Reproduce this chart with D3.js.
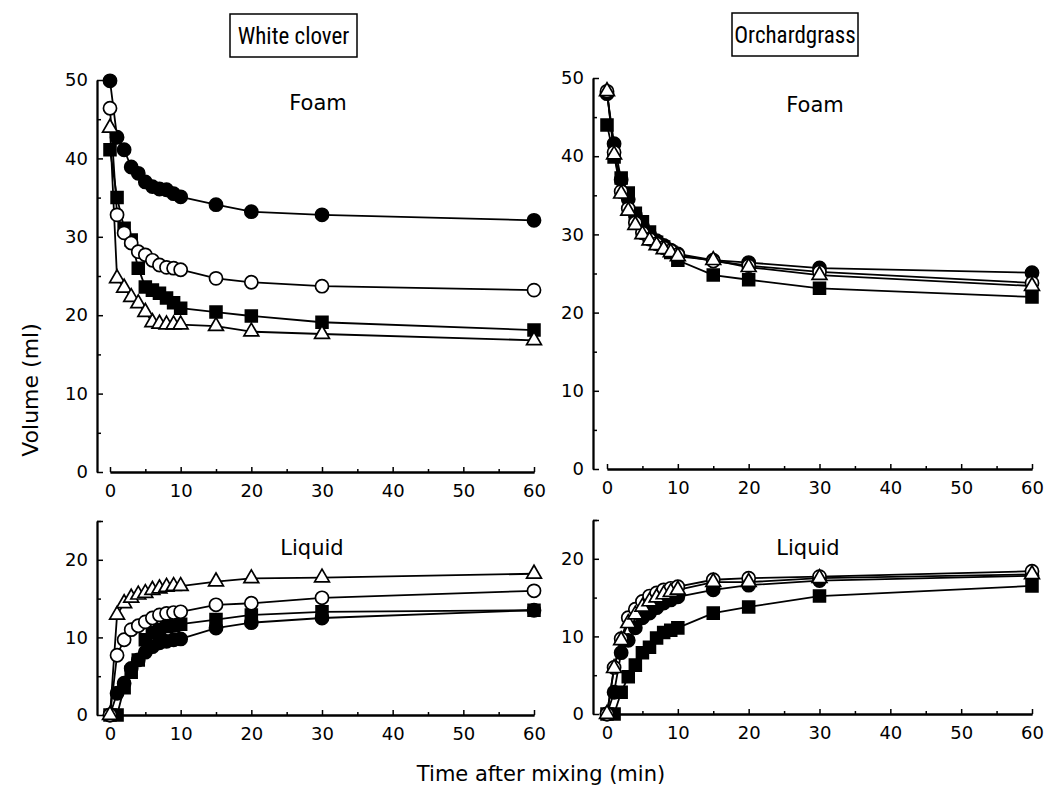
<!DOCTYPE html>
<html>
<head>
<meta charset="utf-8">
<script src="https://cdn.jsdelivr.net/npm/d3@7"></script>
<style>
  body { margin: 0; background: #fff; }
  svg { display: block; }
  .tick text { font-family: "DejaVu Sans", sans-serif; font-size: 18px; fill: #000; }
  .lab { font-family: "DejaVu Sans", sans-serif; fill: #000; }
</style>
</head>
<body>
<div id="chart"></div>
<script>
// minutes after mixing, shared by every series
var times = [0, 1, 2, 3, 4, 5, 6, 7, 8, 9, 10, 15, 20, 30, 60];

// White clover, foam volume (ml)
var wcFoamFilledCircle = [49.9, 42.7, 41.1, 38.9, 38.1, 37.0, 36.4, 36.1, 36.0, 35.5, 35.1, 34.1, 33.2, 32.8, 32.1];
var wcFoamOpenCircle   = [46.4, 32.8, 30.5, 29.2, 28.1, 27.7, 27.0, 26.4, 26.1, 26.0, 25.8, 24.7, 24.2, 23.7, 23.2];
var wcFoamSquare       = [41.1, 35.0, 31.1, 29.6, 26.0, 23.6, 23.2, 22.8, 22.2, 21.6, 20.9, 20.4, 19.9, 19.1, 18.1];
var wcFoamTriangle     = [43.9, 24.7, 23.5, 22.3, 21.5, 20.4, 19.1, 18.9, 18.8, 18.8, 18.8, 18.6, 17.9, 17.6, 16.8];

// Orchardgrass, foam volume (ml)
var ogFoamFilledCircle = [48.0, 41.6, 37.0, 34.5, 32.5, 31.0, 30.0, 29.2, 28.6, 28.0, 27.5, 26.7, 26.4, 25.7, 25.1];
var ogFoamOpenCircle   = [48.3, 40.5, 35.5, 33.3, 31.5, 30.2, 29.4, 28.8, 28.3, 27.9, 27.4, 26.6, 26.0, 25.2, 23.8];
var ogFoamSquare       = [44.0, 39.9, 37.2, 35.3, 32.7, 31.6, 30.3, 29.0, 28.4, 27.7, 26.7, 24.8, 24.2, 23.1, 22.0];
var ogFoamTriangle     = [48.3, 40.2, 35.2, 33.0, 31.2, 30.0, 29.2, 28.6, 28.1, 27.7, 27.2, 26.7, 25.8, 24.8, 23.4];

// White clover, liquid volume (ml)
var wcLiqFilledCircle = [0, 2.8, 4.1, 6.0, 7.1, 8.1, 8.8, 9.3, 9.5, 9.7, 9.8, 11.2, 11.9, 12.5, 13.5];
var wcLiqOpenCircle   = [0, 7.7, 9.7, 11.0, 11.5, 12.0, 12.5, 12.9, 13.1, 13.2, 13.3, 14.2, 14.4, 15.1, 16.0];
var wcLiqSquare       = [0, 0, 3.5, 5.5, 7.1, 9.7, 10.6, 11.0, 11.4, 11.5, 11.7, 12.3, 12.9, 13.3, 13.5];
var wcLiqTriangle     = [0, 12.9, 14.4, 15.1, 15.5, 15.7, 16.1, 16.3, 16.5, 16.6, 16.6, 17.2, 17.6, 17.7, 18.2];

// Orchardgrass, liquid volume (ml)
var ogLiqFilledCircle = [0, 2.8, 7.9, 9.5, 11.1, 12.4, 13.0, 13.7, 14.3, 14.7, 15.1, 16.0, 16.6, 17.2, 17.8];
var ogLiqOpenCircle   = [0, 6.0, 9.7, 12.4, 13.5, 14.5, 15.2, 15.6, 16.0, 16.2, 16.4, 17.3, 17.5, 17.7, 18.4];
var ogLiqSquare       = [0, 0, 2.8, 4.8, 6.3, 7.9, 8.6, 9.8, 10.5, 10.8, 11.1, 13.0, 13.8, 15.2, 16.5];
var ogLiqTriangle     = [0, 5.9, 9.5, 11.7, 12.8, 13.8, 14.5, 15.0, 15.4, 15.7, 16.0, 17.0, 17.0, 17.5, 18.0];

var W = 1051, H = 789;
var svg = d3.select('#chart').append('svg').attr('width', W).attr('height', H);

function series(filled, open, square, tri) {
    return [
        {marker: 'square', values: square},
        {marker: 'filledCircle', values: filled},
        {marker: 'openCircle', values: open},
        {marker: 'triangle', values: tri}
    ];
}

var panels = [
    {x0: 110, x1: 534, yAxisX: 97, yb: 472, yt: 80, ymax: 50, label: 'Foam', lx: 318, ly: 103,
     data: series(wcFoamFilledCircle, wcFoamOpenCircle, wcFoamSquare, wcFoamTriangle)},
    {x0: 607, x1: 1032, yAxisX: 593, yb: 469, yt: 78, ymax: 50, label: 'Foam', lx: 815, ly: 105,
     data: series(ogFoamFilledCircle, ogFoamOpenCircle, ogFoamSquare, ogFoamTriangle)},
    {x0: 110, x1: 534, yAxisX: 97, yb: 715, yt: 521, ymax: 25, label: 'Liquid', lx: 312, ly: 548,
     data: series(wcLiqFilledCircle, wcLiqOpenCircle, wcLiqSquare, wcLiqTriangle)},
    {x0: 607, x1: 1032, yAxisX: 593, yb: 714, yt: 520, ymax: 25, label: 'Liquid', lx: 808, ly: 548,
     data: series(ogLiqFilledCircle, ogLiqOpenCircle, ogLiqSquare, ogLiqTriangle)}
];

panels.forEach(function(p) {
    var x = d3.scaleLinear().domain([0, 60]).range([p.x0, p.x1]);
    var y = d3.scaleLinear().domain([0, p.ymax]).range([p.yb, p.yt]);
    var g = svg.append('g');

    // minor ticks first, then major with labels
    g.append('g').attr('transform', 'translate(0,' + p.yb + ')')
        .call(d3.axisBottom(x).tickValues(d3.range(5, 60, 10)).tickSizeInner(-3).tickSizeOuter(0).tickFormat(''));
    g.append('g').attr('transform', 'translate(0,' + p.yb + ')')
        .call(d3.axisBottom(x).tickValues(d3.range(0, 61, 10)).tickSizeInner(-5).tickSizeOuter(0).tickPadding(12));
    g.append('g').attr('transform', 'translate(' + p.yAxisX + ',0)')
        .call(d3.axisLeft(y).tickValues(d3.range(5, p.ymax + 1, 10)).tickSizeInner(-4).tickSizeOuter(0).tickFormat(''));
    g.append('g').attr('transform', 'translate(' + p.yAxisX + ',0)')
        .call(d3.axisLeft(y).tickValues(d3.range(0, p.ymax + 1, 10).concat(p.ymax % 10 ? [p.ymax] : []))
              .tickSizeInner(-6).tickSizeOuter(0).tickPadding(9)
              .tickFormat(function(d) { return d % 10 ? '' : d; }));
    g.selectAll('.domain').attr('stroke-width', 1.8);
    g.selectAll('.tick line').attr('stroke-width', 1.5);

    g.append('text').attr('class', 'lab')
        .attr('x', p.lx).attr('y', p.ly).attr('dy', '0.35em')
        .attr('text-anchor', 'middle').attr('font-size', 21).text(p.label);

    var line = d3.line().x(function(d) { return x(d[0]); }).y(function(d) { return y(d[1]); });

    p.data.forEach(function(s) {
        var pts = times.map(function(t, i) { return [t, s.values[i]]; });
        g.append('path').datum(pts).attr('d', line)
            .attr('fill', 'none').attr('stroke', '#000').attr('stroke-width', 1.8);
    });
    p.data.forEach(function(s) {
        var pts = times.map(function(t, i) { return [t, s.values[i]]; });
        var m = g.append('g').selectAll('path').data(pts).enter().append('path')
            .attr('transform', function(d) { return 'translate(' + x(d[0]) + ',' + y(d[1]) + ')'; })
            .attr('stroke', '#000').attr('stroke-width', 1.7);
        if (s.marker === 'square')
            m.attr('d', d3.symbol(d3.symbolSquare, 140)).attr('fill', '#000');
        else if (s.marker === 'filledCircle')
            m.attr('d', d3.symbol(d3.symbolCircle, 135)).attr('fill', '#000');
        else if (s.marker === 'openCircle')
            m.attr('d', d3.symbol(d3.symbolCircle, 135)).attr('fill', '#fff');
        else
            m.attr('d', d3.symbol(d3.symbolTriangle, 95)).attr('fill', '#fff');
    });
});

// species boxes
[{text: 'White clover', x: 230, y: 14, w: 127, h: 43},
 {text: 'Orchardgrass', x: 732, y: 13, w: 126, h: 43}].forEach(function(b) {
    svg.append('rect').attr('x', b.x).attr('y', b.y).attr('width', b.w).attr('height', b.h)
        .attr('fill', 'none').attr('stroke', '#000').attr('stroke-width', 1.5);
    svg.append('text').attr('class', 'lab')
        .attr('x', b.x + b.w / 2).attr('y', b.y + b.h / 2).attr('dy', '0.35em')
        .attr('text-anchor', 'middle').attr('font-size', 23)
        .style('font-family', '"Liberation Sans Narrow", "Roboto Condensed", sans-serif')
        .text(b.text);
});

svg.append('text').attr('class', 'lab')
    .attr('transform', 'translate(30,390) rotate(-90)').attr('dy', '0.35em')
    .attr('text-anchor', 'middle').attr('font-size', 22).text('Volume (ml)');
svg.append('text').attr('class', 'lab')
    .attr('x', 541).attr('y', 774).attr('dy', '0.35em')
    .attr('text-anchor', 'middle').attr('font-size', 21).text('Time after mixing (min)');
</script>
</body>
</html>
